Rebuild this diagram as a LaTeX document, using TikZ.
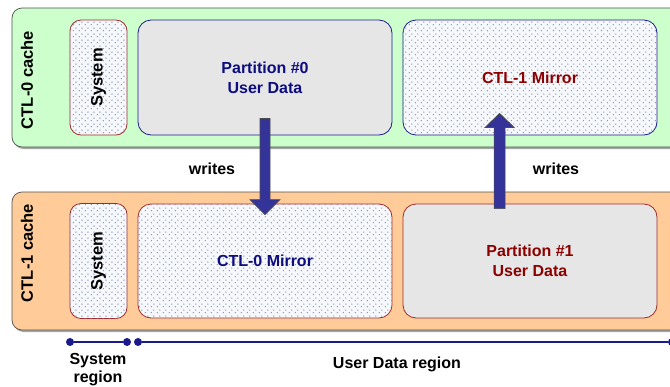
\documentclass[tikz,border=0pt]{standalone}
\usepackage{fontspec}
\setmainfont{Liberation Sans}
\usetikzlibrary{calc,patterns.meta}

\definecolor{ctlgreen}{HTML}{CCFFCC}
\definecolor{ctlorange}{HTML}{FFCC99}
\definecolor{partgray}{HTML}{E6E6E6}
\definecolor{navyline}{HTML}{1A1A8C}
\definecolor{navytext}{HTML}{0D0D80}
\definecolor{redline}{HTML}{9E2B2B}
\definecolor{redtext}{HTML}{8C0000}
\definecolor{dotcol}{HTML}{7D96BC}
\definecolor{dotbg}{HTML}{F7F8FB}
\definecolor{arrowblue}{HTML}{333399}
\definecolor{framegray}{HTML}{505050}

% staggered light-blue dot texture for mirror / system areas
\tikzdeclarepattern{
  name=sparsedots,
  type=colored,
  bounding box={(0pt,0pt) and (6pt,6pt)},
  tile size={(6pt,6pt)},
  code={
    \fill[dotcol] (1.5pt,1.5pt) circle (0.85pt);
    \fill[dotcol] (4.5pt,4.5pt) circle (0.85pt);
  }
}

\tikzset{
  cachebox/.style={rounded corners=10pt, draw=framegray, line width=0.7pt},
  areabox/.style={rounded corners=13pt, line width=0.8pt, inner sep=0pt,
    font=\bfseries\fontsize{16}{20}\selectfont, align=center},
  sysbox/.style={rounded corners=11pt, draw=redline, line width=0.8pt,
    fill=dotbg, postaction={pattern=sparsedots}, inner sep=0pt,
    minimum width=57pt, minimum height=115pt},
  dotted area/.style={fill=dotbg, postaction={pattern=sparsedots}},
  sidelabel/.style={rotate=90, font=\bfseries\fontsize{16.5}{20}\selectfont},
  plainlabel/.style={font=\bfseries\fontsize{16}{19}\selectfont, align=center},
  blockarrow/.style={fill=arrowblue, draw=black!70, line width=0.7pt},
  regionline/.style={draw=navyline, line width=1.3pt},
  regiondot/.style={fill=navyline, circle, inner sep=0pt, minimum size=8pt},
}

\begin{document}
\begin{tikzpicture}[x=1pt, y=-1pt]
\useasboundingbox (0,0) rectangle (670,386);

% controller caches
\fill[black!35, rounded corners=10pt] (13.5,10.5) rectangle (682,149);
\draw[cachebox, fill=ctlgreen] (12,8) rectangle (680,147);
\fill[black!35, rounded corners=10pt] (13.5,194.5) rectangle (682,332);
\draw[cachebox, fill=ctlorange] (12,192) rectangle (680,330);

\node[sidelabel] (c0) at (27,80) {CTL-0 cache};
\node[sidelabel] (c1) at (27,253) {CTL-1 cache};

% upper cache contents
\node[sysbox] (s0) at (98.5,77.5) {};
\node[sidelabel] at (s0) {System};
\node[areabox, draw=navyline, fill=partgray, text=navytext,
      minimum width=254pt, minimum height=115pt] (p0) at (265,77.5)
      {Partition \#0\\User Data};
\node[areabox, draw=navyline, dotted area, text=redtext,
      minimum width=254pt, minimum height=115pt] (m1) at (530,77.5)
      {CTL-1 Mirror};

% lower cache contents
\node[sysbox] (s1) at (98.5,261) {};
\node[sidelabel] at (s1) {System};
\node[areabox, draw=redline, dotted area, text=navytext,
      minimum width=254pt, minimum height=114pt] (m0) at (265,261)
      {CTL-0 Mirror};
\node[areabox, draw=redline, fill=partgray, text=redtext,
      minimum width=254pt, minimum height=114pt] (p1) at (530,261)
      {Partition \#1\\User Data};

% write paths
\coordinate (w0a) at ($(p0.south)+(0,-17)$);
\coordinate (w0b) at ($(m0.north)+(0,11)$);
\draw[blockarrow] ($(w0a)+(-5,0)$) -- ($(w0a)+(5,0)$) -- ($(w0b)+(5,-15)$)
  -- ($(w0b)+(15,-15)$) -- (w0b) -- ($(w0b)+(-15,-15)$) -- ($(w0b)+(-5,-15)$) -- cycle;

\coordinate (w1a) at ($(p1.north west)+(97,5)$);
\coordinate (w1b) at ($(m1.south west)+(97,-22)$);
\draw[blockarrow] ($(w1a)+(-5.5,0)$) -- ($(w1a)+(5.5,0)$) -- ($(w1b)+(5.5,14)$)
  -- ($(w1b)+(14.5,14)$) -- (w1b) -- ($(w1b)+(-14.5,14)$) -- ($(w1b)+(-5.5,14)$) -- cycle;

\node[plainlabel] (wl) at (212,169) {writes};
\node[plainlabel] (wr) at (556,169) {writes};

% region scale
\node[regiondot] (r0) at (70,342) {};
\node[regiondot] (r1) at (127,342) {};
\node[regiondot] (r2) at (138,342) {};
\node[regiondot] (r3) at (672,342) {};
\draw[regionline] (r0) -- (r1);
\draw[regionline] (r2) -- (r3);

\node[plainlabel, font=\bfseries\fontsize{16}{18}\selectfont] (sr) at (98,369.5) {System\\region};
\node[plainlabel, font=\bfseries\fontsize{16}{19}\selectfont] (ur) at (397,364) {User Data region};
\end{tikzpicture}
\end{document}
